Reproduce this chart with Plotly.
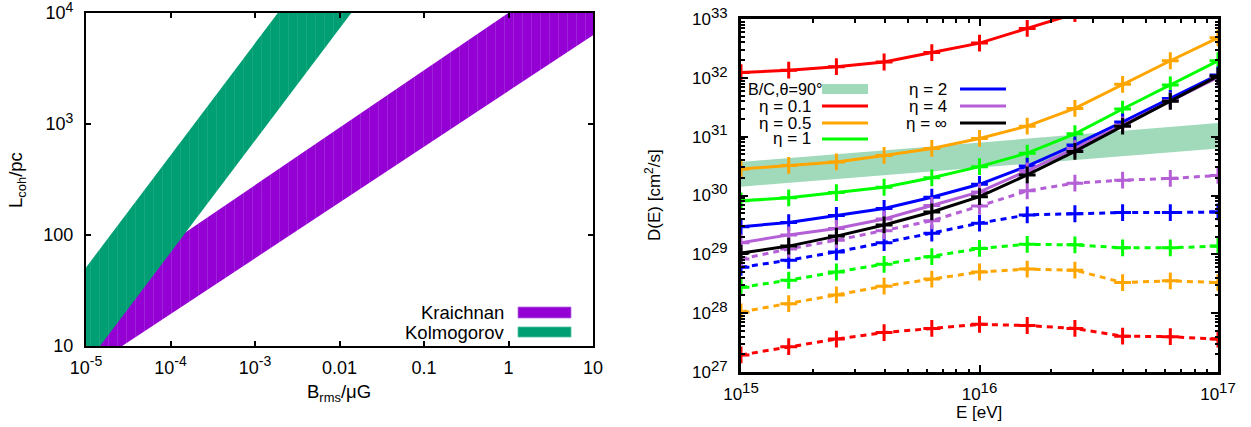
import plotly.graph_objects as go

W, H = 1251, 427

# ---------------- Left panel data ----------------
kol_B = [1e-5, 0.1]
kol_low = [6.8, 7.4e4]
kol_high = [51.0, 5.6e5]

kra_B = [1e-5, 10.0]
kra_low = [6.1, 6.3e3]
kra_high = [26.0, 3.3e4]


def sup(base, exp, size=14):
    return f"{base}<sup><span style='font-size:{size}px'>{exp}</span></sup>"


left_xticks = [1e-5, 1e-4, 1e-3, 1e-2, 0.1, 1, 10]
left_xticktext = [sup("10", "-5"), sup("10", "-4"), sup("10", "-3"), "0.01", "0.1", "1", "10"]
left_yticks = [10, 100, 1e3, 1e4]
left_yticktext = ["10", "100", sup("10", "3"), sup("10", "4")]

# ---------------- Right panel data ----------------
E = [1e15, 1.585e15, 2.512e15, 3.981e15, 6.31e15, 1e16, 1.585e16, 2.512e16, 3.981e16, 6.31e16, 1e17]

bc_E = [1e15, 1e17]
bc_low = [1.41e30, 6.31e30]
bc_high = [3.72e30, 1.70e31]

solid = {
    "η = 0.1": [1.23e32, 1.35e32, 1.55e32, 1.86e32, 2.69e32, 3.89e32, 6.92e32, 1.23e33],
    "η = 0.5": [2.82e30, 3.24e30, 3.72e30, 4.79e30, 6.31e30, 9.33e30, 1.51e31, 3.02e31, 7.76e31, 1.95e32, 4.79e32],
    "η = 1": [8.13e29, 9.12e29, 1.12e30, 1.38e30, 2.00e30, 3.09e30, 5.25e30, 1.12e31, 2.95e31, 7.59e31, 1.95e32],
    "η = 2": [2.95e29, 3.47e29, 4.57e29, 6.03e29, 9.33e29, 1.55e30, 3.16e30, 7.24e30, 1.78e31, 4.47e31, 1.12e32],
    "η = 4": [1.58e29, 2.14e29, 2.75e29, 3.98e29, 6.76e29, 1.15e30, 2.63e30, 6.31e30, 1.58e31, 4.07e31, 1.02e32],
    "η = ∞": [1.05e29, 1.38e29, 2.04e29, 3.16e29, 5.25e29, 9.55e29, 2.24e30, 5.62e30, 1.51e31, 3.98e31, 1.07e32],
}
dashed = {
    "η = 0.1": [1.95e27, 2.69e27, 3.63e27, 4.68e27, 5.50e27, 6.46e27, 6.17e27, 5.50e27, 4.07e27, 3.98e27, 3.63e27],
    "η = 0.5": [1.05e28, 1.45e28, 2.04e28, 2.88e28, 3.80e28, 5.01e28, 5.62e28, 5.37e28, 3.31e28, 3.55e28, 3.31e28],
    "η = 1": [2.75e28, 3.63e28, 5.01e28, 6.76e28, 9.12e28, 1.26e29, 1.48e29, 1.45e29, 1.29e29, 1.29e29, 1.38e29],
    "η = 2": [6.03e28, 7.94e28, 1.10e29, 1.58e29, 2.29e29, 3.39e29, 4.68e29, 4.90e29, 5.13e29, 5.13e29, 5.25e29],
    "η = 4": [8.32e28, 1.23e29, 1.74e29, 2.51e29, 3.72e29, 6.61e29, 1.20e30, 1.62e30, 1.82e30, 1.95e30, 2.19e30],
}
colors = {
    "η = 0.1": "#ff0000",
    "η = 0.5": "#ffa500",
    "η = 1": "#00ff00",
    "η = 2": "#0000ff",
    "η = 4": "#b45fd6",
    "η = ∞": "#000000",
}
right_yticks = [1e27, 1e28, 1e29, 1e30, 1e31, 1e32, 1e33]
right_yticktext = [sup("10", e, 15) for e in ("27", "28", "29", "30", "31", "32", "33")]
right_xticks = [1e15, 1e16, 1e17]
right_xticktext = [sup("10", e, 15) for e in ("15", "16", "17")]

PURPLE = "#9400d3"
TEAL = "#009e73"
BC = "#a0dabb"
FONT = "Liberation Sans, Arial, sans-serif"


def px(x):
    return x / W


def py(y):
    return 1 - y / H


fig = go.Figure()

# Left panel bands
fig.add_trace(go.Scatter(
    x=kra_B + kra_B[::-1], y=kra_low + kra_high[::-1], fill="toself", mode="lines",
    line=dict(width=0, color=PURPLE), fillcolor=PURPLE,
    fillpattern=dict(shape="|", fgcolor="#b060e0", bgcolor=PURPLE, size=9, solidity=0.08),
    xaxis="x", yaxis="y", showlegend=False, hoverinfo="skip"))
fig.add_trace(go.Scatter(
    x=kol_B + kol_B[::-1], y=kol_low + kol_high[::-1], fill="toself", mode="lines",
    line=dict(width=0, color=TEAL), fillcolor=TEAL,
    fillpattern=dict(shape="|", fgcolor="#40b893", bgcolor=TEAL, size=9, solidity=0.08),
    xaxis="x", yaxis="y", showlegend=False, hoverinfo="skip"))

# Right panel B/C band
fig.add_trace(go.Scatter(
    x=bc_E + bc_E[::-1], y=bc_low + bc_high[::-1], fill="toself", mode="lines",
    line=dict(width=0, color=BC), fillcolor=BC,
    xaxis="x2", yaxis="y2", showlegend=False, hoverinfo="skip"))

for name, vals in dashed.items():
    fig.add_trace(go.Scatter(
        x=E[:len(vals)], y=vals, mode="lines+markers",
        line=dict(color=colors[name], width=3, dash="6px,5px"),
        marker=dict(symbol="cross-thin", size=12, line=dict(width=3, color=colors[name])),
        xaxis="x2", yaxis="y2", showlegend=False))
for name, vals in solid.items():
    fig.add_trace(go.Scatter(
        x=E[:len(vals)], y=vals, mode="lines+markers",
        line=dict(color=colors[name], width=3),
        marker=dict(symbol="cross-thin", size=12, line=dict(width=3, color=colors[name])),
        xaxis="x2", yaxis="y2", showlegend=False))

minor_x = [float(m) * 10.0 ** e for e in (15, 16) for m in range(2, 10)]
minor_y = [float(m) * 10.0 ** e for e in range(27, 33) for m in range(2, 10)]

common = dict(type="log", showline=True, linecolor="black", mirror="ticks", showgrid=False,
              zeroline=False, automargin=False, ticks="inside", tickcolor="black",
              tickmode="array", ticklabeloverflow="allow")
lfont = dict(family=FONT, size=18, color="black")
rfont = dict(family=FONT, size=17, color="black")

fig.update_layout(
    width=W, height=H, margin=dict(l=0, r=0, t=0, b=0),
    paper_bgcolor="white", plot_bgcolor="white",
    font=dict(family=FONT, size=18, color="black"),
    xaxis=dict(common, range=[-5, 1], domain=[px(86), px(593)], anchor="y",
               tickvals=left_xticks, ticktext=left_xticktext, tickfont=lfont,
               ticklen=5, tickwidth=1.5, linewidth=2, ticklabelstandoff=4),
    yaxis=dict(common, range=[1, 4], domain=[py(346), py(13)], anchor="x",
               tickvals=left_yticks, ticktext=left_yticktext, tickfont=lfont,
               ticklen=5, tickwidth=1.5, linewidth=2, ticklabelstandoff=7),
    xaxis2=dict(common, range=[15, 17], domain=[px(741), px(1218)], anchor="y2",
                tickvals=right_xticks, ticktext=right_xticktext, tickfont=rfont,
                ticklen=7, tickwidth=2, linewidth=3, ticklabelstandoff=5,
                minor=dict(tickmode="array", tickvals=minor_x, ticks="inside", ticklen=3.5,
                           tickwidth=1.5, tickcolor="black")),
    yaxis2=dict(common, range=[27, 33], domain=[py(372), py(19)], anchor="x2",
                tickvals=right_yticks, ticktext=right_yticktext, tickfont=rfont,
                ticklen=7, tickwidth=2, linewidth=3, ticklabelstandoff=7,
                minor=dict(tickmode="array", tickvals=minor_y, ticks="inside", ticklen=3.5,
                           tickwidth=1.5, tickcolor="black")),
)

ann = []
shapes = []


def text(x, y, s, xanchor="center", angle=0, size=18):
    ann.append(dict(x=px(x), y=py(y), xref="paper", yref="paper", text=s, showarrow=False,
                    xanchor=xanchor, yanchor="middle", textangle=angle,
                    font=dict(family=FONT, size=size, color="black")))


# axis titles
text(339, 393, "B<sub>rms</sub>/μG", size=18.5)
text(17, 180, "L<sub>coh</sub>/pc", angle=-90, size=18.5)
text(653, 195, "D(E) [cm<sup>2</sup>/s]", angle=-90, size=17)
text(979, 412, "E [eV]", size=17)

# left legend
text(506, 312, "Kraichnan", xanchor="right", size=18.5)
text(506, 332, "Kolmogorov", xanchor="right", size=18.5)
shapes.append(dict(type="rect", xref="paper", yref="paper", x0=px(518), x1=px(571), y0=py(318), y1=py(307),
                   fillcolor=PURPLE, line=dict(width=0.8, color="#b070e0")))
shapes.append(dict(type="rect", xref="paper", yref="paper", x0=px(518), x1=px(571), y0=py(337), y1=py(327),
                   fillcolor=TEAL, line=dict(width=0.8, color="#50c0a0")))

# right legend
lsize = 17
text(824, 89, "B/C,θ=90°", xanchor="right", size=16.2)
shapes.append(dict(type="rect", xref="paper", yref="paper", x0=px(822), x1=px(868), y0=py(94), y1=py(84),
                   fillcolor=BC, line=dict(width=0)))
for name, yy in (("η = 0.1", 106), ("η = 0.5", 123), ("η = 1", 139)):
    text(813, yy, name, xanchor="right", size=lsize)
    shapes.append(dict(type="line", xref="paper", yref="paper", x0=px(822), x1=px(868), y0=py(yy), y1=py(yy),
                       line=dict(color=colors[name], width=3)))
for name, yy in (("η = 2", 89), ("η = 4", 106), ("η = ∞", 123)):
    text(949, yy, name, xanchor="right", size=lsize)
    shapes.append(dict(type="line", xref="paper", yref="paper", x0=px(960), x1=px(1006), y0=py(yy), y1=py(yy),
                       line=dict(color=colors[name], width=3)))

fig.update_layout(annotations=ann, shapes=shapes)
fig.write_html("out.html")
